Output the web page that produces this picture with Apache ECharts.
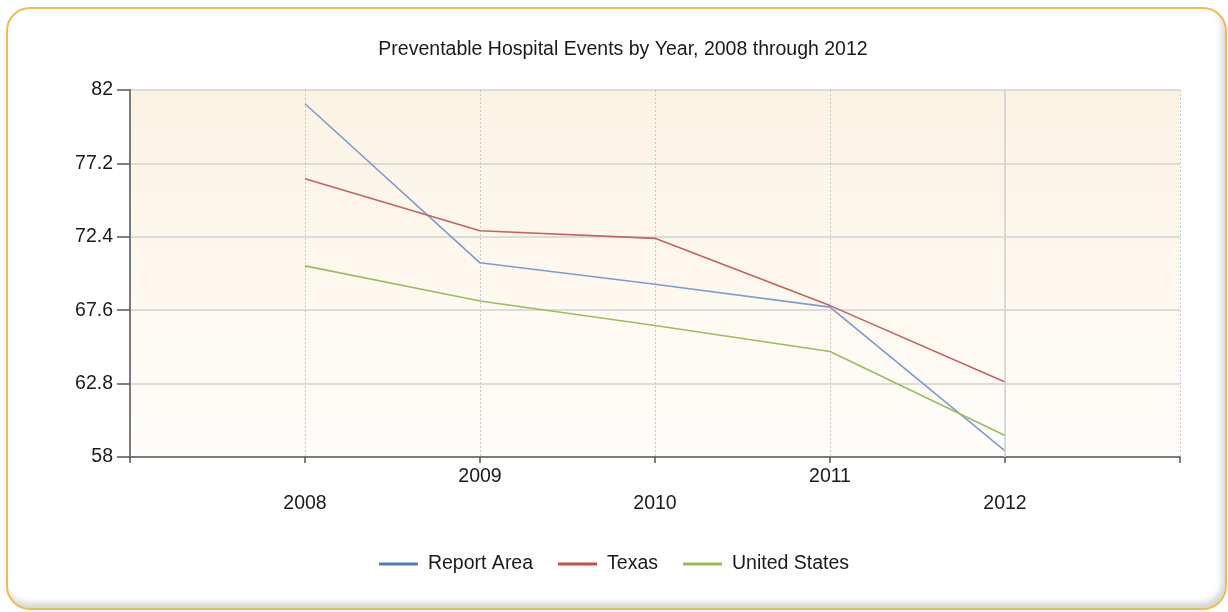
<!DOCTYPE html>
<html>
<head>
<meta charset="utf-8">
<script src="https://cdn.jsdelivr.net/npm/echarts@6/dist/echarts.min.js"></script>
<style>
html,body{margin:0;padding:0;background:#fff;width:1228px;height:612px;overflow:hidden;}
#frame{position:absolute;left:6px;top:7px;width:1217px;height:599px;border:2.5px solid #f0bb4e;border-radius:24px;box-shadow:inset -3px -5px 6px rgba(0,0,0,0.17);}
#chart{position:absolute;left:0;top:0;width:1228px;height:612px;}
</style>
</head>
<body>
<div id="frame"></div>
<div id="chart"></div>
<script>
const years = [2008, 2009, 2010, 2011, 2012];
const yTicks = [58, 62.8, 67.6, 72.4, 77.2, 82];
const reportArea = [81.1, 70.7, 69.3, 67.8, 58.4];
const texas = [76.2, 72.8, 72.3, 67.9, 62.9];
const unitedStates = [70.5, 68.2, 66.6, 64.9, 59.4];
const seriesNames = ['Report Area', 'Texas', 'United States'];

const FONT = 'Liberation Sans';
const pairs = arr => years.map((y, i) => [y, arr[i]]);

const chart = echarts.init(document.getElementById('chart'), null, {renderer: 'canvas'});
chart.setOption({
  animation: false,
  backgroundColor: 'transparent',
  textStyle: {fontFamily: FONT},
  title: {
    text: 'Preventable Hospital Events by Year, 2008 through 2012',
    left: 618, top: 35, textAlign: 'center',
    textStyle: {fontFamily: FONT, fontSize: 19.5, fontWeight: 'normal', color: '#1a1a1a'}
  },
  legend: {
    bottom: 33, left: 'center',
    itemWidth: 39, itemHeight: 3, itemGap: 25,
    icon: 'rect',
    textStyle: {fontFamily: FONT, fontSize: 19.5, color: '#1a1a1a', padding: [0, 0, 0, 5]},
    data: seriesNames
  },
  grid: {
    left: 130, right: 48, top: 90, bottom: 155,
    show: true, borderWidth: 0,
    backgroundColor: new echarts.graphic.LinearGradient(0, 0, 0, 1, [
      {offset: 0, color: '#fbf2e3'},
      {offset: 1, color: '#fffdfa'}
    ])
  },
  xAxis: {
    type: 'value', min: 2007, max: 2013, interval: 1,
    axisLine: {lineStyle: {color: '#7a7a7a', width: 2}},
    axisTick: {show: true, length: 6, lineStyle: {color: '#555', width: 1.5}},
    axisLabel: {
      fontFamily: FONT, fontSize: 19.5, color: '#1a1a1a', margin: 6, lineHeight: 27,
      formatter: v => (v < years[0] || v > years[years.length - 1]) ? '' : (v % 2 === 0 ? '\n' + v : String(v))
    },
    splitLine: {show: true, lineStyle: {color: '#c8c8c8', type: [2, 2], width: 1}}
  },
  yAxis: {
    type: 'value', min: yTicks[0], max: yTicks[yTicks.length - 1],
    axisLine: {show: true, lineStyle: {color: '#7a7a7a', width: 2}},
    axisTick: {show: true, length: 13, customValues: yTicks, lineStyle: {color: '#555', width: 1.5}},
    axisLabel: {fontFamily: FONT, fontSize: 19.5, color: '#1a1a1a', margin: 17, customValues: yTicks,
      padding: [7, 0, 0, 0], formatter: v => String(v)},
    splitLine: {show: true, lineStyle: {color: '#d2d2d2', width: 1.5}}
  },
  series: [
    {name: seriesNames[0], type: 'line', data: pairs(reportArea), showSymbol: false, symbol: 'none',
     itemStyle: {color: '#4f7db8'}, lineStyle: {color: '#7d9ccb', width: 1.6},
     markLine: {silent: true, symbol: 'none', label: {show: false},
       lineStyle: {color: '#d2d2d2', type: 'solid', width: 1.5},
       data: [{xAxis: years[years.length - 1]}]}},
    {name: seriesNames[1], type: 'line', data: pairs(texas), showSymbol: false, symbol: 'none',
     itemStyle: {color: '#c0504d'}, lineStyle: {color: '#c36360', width: 1.6}},
    {name: seriesNames[2], type: 'line', data: pairs(unitedStates), showSymbol: false, symbol: 'none',
     itemStyle: {color: '#9bbb59'}, lineStyle: {color: '#9dbb62', width: 1.6}}
  ]
});
</script>
</body>
</html>
